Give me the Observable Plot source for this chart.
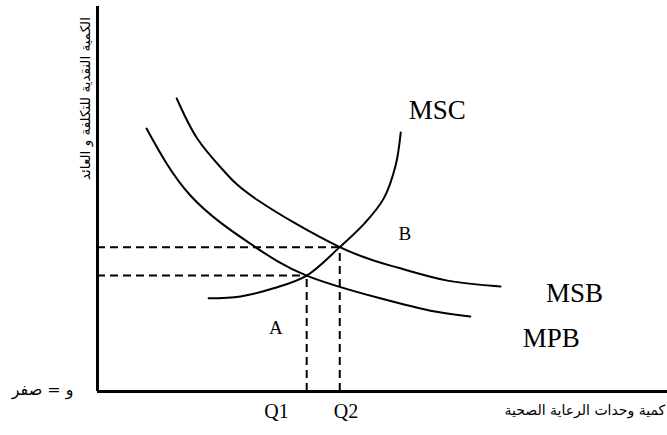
<!DOCTYPE html>
<html>
<head>
<meta charset="utf-8">
<script src="https://cdn.jsdelivr.net/npm/d3@7"></script>
<script src="https://cdn.jsdelivr.net/npm/@observablehq/plot@0.6"></script>
<style>
  html, body { margin: 0; padding: 0; background: #fff; }
  #chart svg { display: block; }
</style>
</head>
<body>
<div id="chart"></div>
<script>
// Quantity (q) and money value (p) points along each curve
const msc = [[19.5, 24.2], [25.1, 24.7], [30.9, 26.8], [36.7, 30.1], [42.5, 37.5], [46.8, 43.6], [50.2, 50.1], [52.3, 58.7], [53.2, 67.3]];
const msb = [[13.9, 76.1], [17.5, 65.7], [22.1, 57.4], [28.2, 49.6], [42.5, 37.5], [52.6, 32.2], [61.4, 28.8], [70.7, 27.3]];
const mpb = [[8.6, 68.3], [16.3, 50.9], [26.8, 38.4], [36.7, 30.1], [49.6, 24.2], [58.4, 21.0], [65.4, 19.5]];

// Equilibrium points: MPB = MSC (Q1) and MSB = MSC (Q2)
const equilibria = [
  {name: "Q1", q: 36.7, p: 30.1},
  {name: "Q2", q: 42.5, p: 37.5}
];

// Annotation text
const curveLabels = [
  {text: "MSC", q: 59.6, p: 72.9},
  {text: "MSB", q: 83.7, p: 25.6},
  {text: "MPB", q: 79.6, p: 13.9}
];
const areaLabels = [
  {text: "A", q: 31.3, p: 16.5},
  {text: "B", q: 53.9, p: 40.9}
];
const tickLabels = [
  {text: "Q1", q: 31.4, p: -5.2},
  {text: "Q2", q: 43.6, p: -5.2}
];
const yTitle = "الكمية النقدية للتكلفة و العائد";
const xTitle = "كمية وحدات الرعاية الصحية";
const originLabel = "و = صفر";

const arabicFont = "'DejaVu Sans', sans-serif";

const chart = Plot.plot({
  width: 667,
  height: 435,
  marginLeft: 97,
  marginTop: 6,
  marginRight: 0,
  marginBottom: 44,
  x: {domain: [0, 100], axis: null},
  y: {domain: [0, 100], axis: null},
  style: {fontFamily: "'Liberation Serif', 'Times New Roman', serif", background: "#fff", color: "#000"},
  marks: [
    // dashed guides from the equilibria to the axes
    Plot.ruleY(equilibria, {y: "p", x1: 0, x2: "q", stroke: "#000", strokeWidth: 2, strokeDasharray: "8,5"}),
    Plot.ruleX(equilibria, {x: "q", y1: 0, y2: "p", stroke: "#000", strokeWidth: 2, strokeDasharray: "8,5"}),
    // curves (MSC turns nearly vertical, so it uses a parametric spline)
    Plot.line(msc, {curve: "catmull-rom", stroke: "#000", strokeWidth: 2}),
    Plot.line(msb, {curve: "natural", stroke: "#000", strokeWidth: 2}),
    Plot.line(mpb, {curve: "natural", stroke: "#000", strokeWidth: 2}),
    // axes
    Plot.ruleX([0], {stroke: "#000", strokeWidth: 3}),
    Plot.ruleY([0], {stroke: "#000", strokeWidth: 3}),
    // labels
    Plot.text(curveLabels, {x: "q", y: "p", text: "text", fontSize: 27, fill: "#000"}),
    Plot.text(areaLabels, {x: "q", y: "p", text: "text", fontSize: 19, fill: "#000"}),
    Plot.text(tickLabels, {x: "q", y: "p", text: "text", fontSize: 20, fill: "#000"}),
    Plot.text([yTitle], {x: -2.1, y: 76.1, text: d => d, rotate: -90, fontSize: 13.5, fontFamily: arabicFont, fill: "#000"}),
    Plot.text([xTitle], {x: 99.6, y: -5.0, text: d => d, textAnchor: "end", fontSize: 14, fontFamily: arabicFont, fill: "#000"}),
    Plot.text([originLabel], {x: -4.2, y: 0.3, text: d => d, textAnchor: "end", fontSize: 16, fontFamily: arabicFont, fill: "#000"})
  ]
});

document.getElementById("chart").appendChild(chart);
</script>
</body>
</html>
